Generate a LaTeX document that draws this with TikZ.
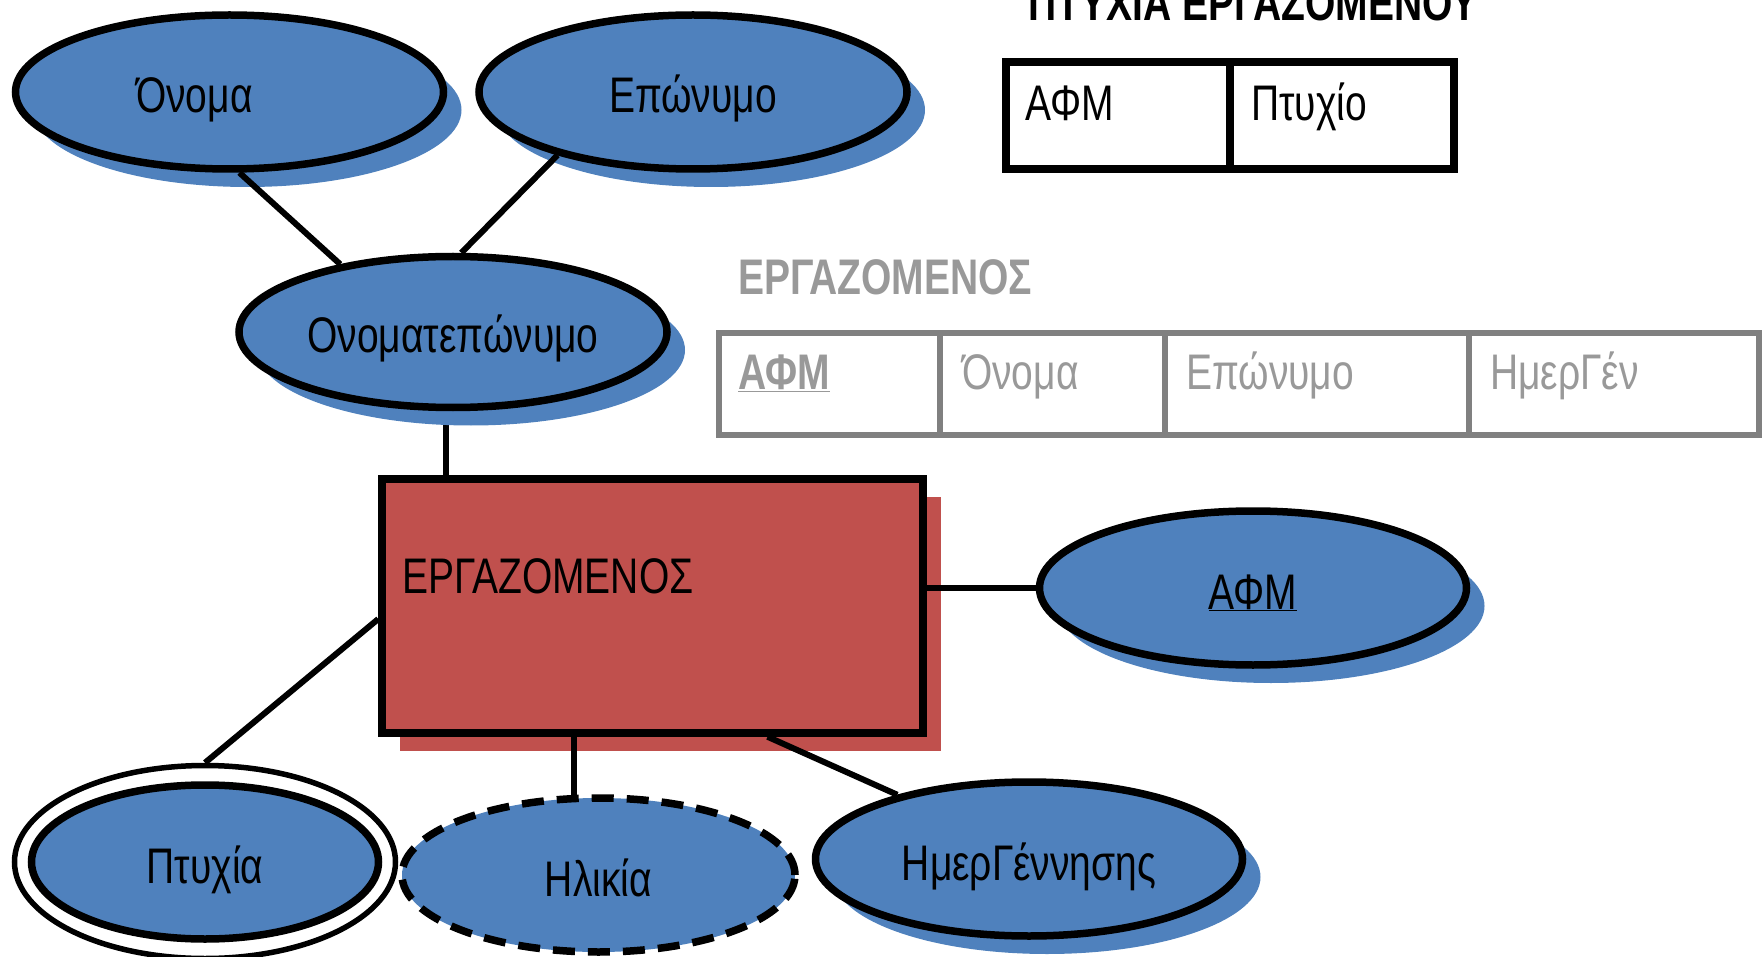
\documentclass[tikz,border=0pt]{standalone}
\usepackage{fontspec}
\setmainfont[FakeStretch=0.78]{Liberation Sans}
\usetikzlibrary{shapes.geometric,shadows,calc}
\definecolor{attrblue}{HTML}{4F81BD}
\definecolor{entred}{HTML}{C0504D}
\definecolor{tblgray}{HTML}{808080}
\definecolor{txtgray}{HTML}{999999}
\newcommand\bigf{\fontsize{50}{60}\selectfont}
\pgfdeclarelayer{bg}
\pgfsetlayers{bg,main}
\begin{document}
\begin{tikzpicture}[x=1pt,y=-1pt,font=\bigf,
  attr/.style={ellipse, draw, line width=7.5pt, fill=attrblue, inner sep=0pt,
    minimum width=428pt, minimum height=154pt, text height=46pt, text depth=4pt},
  shad/.style={drop shadow={shadow xshift=18pt, shadow yshift=-18pt, fill=attrblue, opacity=1}},
  entity/.style={rectangle, draw, line width=7.5pt, fill=entred, inner sep=0pt,
    minimum width=541pt, minimum height=254pt,
    drop shadow={shadow xshift=18pt, shadow yshift=-18pt, fill=entred, opacity=1}},
  conn/.style={line width=6pt},
  tcell/.style={rectangle, draw, line width=7.5pt, inner sep=0pt, minimum height=107pt},
  gcell/.style={rectangle, draw=tblgray, line width=6.5pt, inner sep=0pt, minimum height=102pt},
  txt/.style={inner sep=0pt, anchor=base west}
]
\useasboundingbox (0,0) rectangle (1764,957);

% ER diagram
\node[attr, shad] (onoma) at (229.5,92) {\hspace*{-70pt}Όνομα};
\node[attr, shad] (eponymo) at (693,92) {Επώνυμο};
\node[attr, shad, minimum height=151pt] (onomat) at (453,332) {Ονοματεπώνυμο};
\node[entity] (ent) at (652.5,606) {};
\node[txt] (entlabel) at (402,593) {ΕΡΓΑΖΟΜΕΝΟΣ};
\node[attr, shad, minimum width=427pt] (afm) at (1253,588) {\underline{ΑΦΜ}};
\node[ellipse, draw, line width=5.5pt, fill=white, inner sep=0pt,
  minimum width=381pt, minimum height=193pt] (ptyxiaouter) at (205,862) {};
\node[attr, minimum width=347pt] (ptyxia) at (205,862) {Πτυχία};
\node[attr, minimum width=393pt, dash pattern=on 22pt off 13pt] (ilikia) at (598.5,875) {Ηλικία};
\node[attr, shad, minimum width=427pt] (imer) at (1029,859) {ΗμερΓέννησης};

\begin{pgfonlayer}{bg}
\draw[conn] (onomat.265) -- (onomat.265 |- ent.north);
\end{pgfonlayer}
\draw[conn] (onoma.-83) -- (onomat.149);
\draw[conn] (eponymo.205) -- (onomat.84);
\draw[conn] (afm.west) -- (afm.west -| ent.east);
\draw[conn] (ptyxiaouter.north) -- ($(ent.west)+(0,13)$);
\draw[conn] (ilikia.107) -- (ilikia.107 |- ent.south);
\draw[conn] (imer.154) -- ($(ent.south)+(115,0)$);

% table ΠΤΥΧΙΑ ΕΡΓΑΖΟΜΕΝΟΥ
\node[inner sep=0pt, anchor=base, font=\bigf\bfseries] (title1) at (1253,21) {ΠΤΥΧΙΑ ΕΡΓΑΖΟΜΕΝΟΥ};
\node[tcell, minimum width=224pt] (p1) at (1118,115.5) {};
\node[tcell, minimum width=224pt] (p2) at (1342,115.5) {};
\node[txt] (p1t) at (1025,121) {ΑΦΜ};
\node[txt] (p2t) at (1251,121) {Πτυχίο};

% table ΕΡΓΑΖΟΜΕΝΟΣ
\node[txt, text=txtgray, font=\bigf\bfseries] (title2) at (738,295) {ΕΡΓΑΖΟΜΕΝΟΣ};
\node[gcell, minimum width=221pt] (g1) at (829.5,384) {};
\node[gcell, minimum width=225pt] (g2) at (1052.5,384) {};
\node[gcell, minimum width=304pt] (g3) at (1317,384) {};
\node[gcell, minimum width=290pt] (g4) at (1614,384) {};
\node[txt, text=txtgray, font=\bigf\bfseries] (g1t) at (738,390) {\underline{ΑΦΜ}};
\node[txt, text=txtgray] (g2t) at (962,390) {Όνομα};
\node[txt, text=txtgray] (g3t) at (1186,390) {Επώνυμο};
\node[txt, text=txtgray] (g4t) at (1490,390) {ΗμερΓέν};
\end{tikzpicture}
\end{document}
